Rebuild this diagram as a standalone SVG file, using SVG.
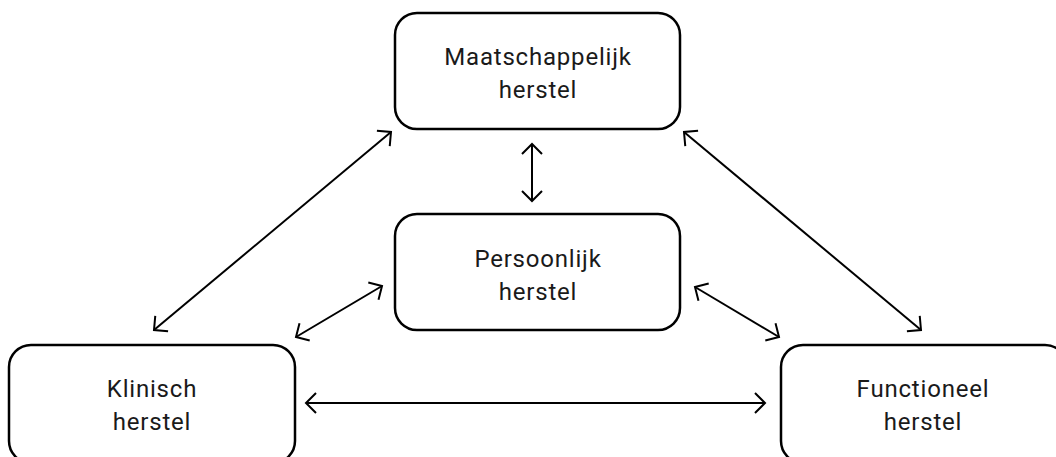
<svg xmlns="http://www.w3.org/2000/svg" width="1056" height="457" viewBox="0 0 1056 457">
<style>
.box{fill:#fff;stroke:#000;stroke-width:2.5}
.t{font-family:Roboto,"DejaVu Sans",sans-serif;font-size:24px;fill:#1a1a1a;text-anchor:middle;letter-spacing:0.8px}
.c{stroke:#000;stroke-width:2;fill:none;marker-start:url(#ah);marker-end:url(#ah)}
</style>
<defs>
<marker id="ah" markerUnits="userSpaceOnUse" markerWidth="24" markerHeight="24" viewBox="-12 -12 24 24" refX="0" refY="0" orient="auto-start-reverse">
<path d="M-10,-10 L0,0 L-10,10" fill="none" stroke="#000" stroke-width="2"/>
</marker>
</defs>
<g id="connectors">
<line class="c" x1="391" y1="132" x2="154" y2="330"/>
<line class="c" x1="382" y1="286" x2="296" y2="337"/>
<line class="c" x1="684" y1="132" x2="921" y2="330"/>
<line class="c" x1="695" y1="287" x2="779" y2="337"/>
<line class="c" x1="532" y1="144" x2="532" y2="201"/>
<line class="c" x1="306" y1="403" x2="765" y2="403"/>
</g>
<g id="maatschappelijk">
<rect class="box" x="395" y="13" width="285" height="116" rx="22"/>
<text class="t" x="538" y="65">Maatschappelijk</text>
<text class="t" x="538" y="98">herstel</text>
</g>
<g id="persoonlijk">
<rect class="box" x="395" y="214" width="285" height="116" rx="22"/>
<text class="t" x="538" y="267">Persoonlijk</text>
<text class="t" x="538" y="300">herstel</text>
</g>
<g id="klinisch">
<rect class="box" x="9" y="345" width="286" height="118" rx="22"/>
<text class="t" x="152" y="397">Klinisch</text>
<text class="t" x="152" y="430">herstel</text>
</g>
<g id="functioneel">
<rect class="box" x="781" y="345" width="286" height="118" rx="22"/>
<text class="t" x="923" y="397">Functioneel</text>
<text class="t" x="923" y="430">herstel</text>
</g>
</svg>
